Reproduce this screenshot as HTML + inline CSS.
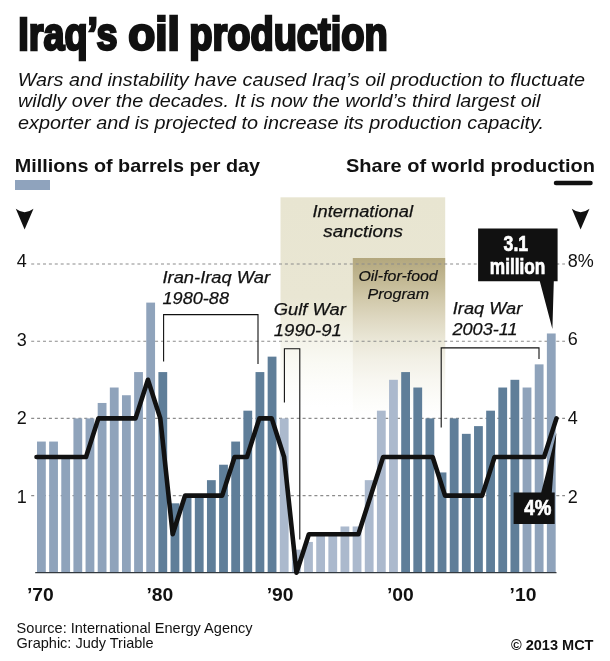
<!DOCTYPE html>
<html><head><meta charset="utf-8"><title>Iraq's oil production</title>
<style>
html,body{margin:0;padding:0;background:#fff;}
svg{display:block}
text{font-family:"Liberation Sans",sans-serif;fill:#111}
.b{font-weight:bold}
.i{font-style:italic}
</style></head><body>
<svg width="610" height="661" viewBox="0 0 610 661">
<defs>
<linearGradient id="gl" x1="0" x2="1" y1="0" y2="0"><stop offset="0" stop-color="#8a9eb7"/><stop offset="1" stop-color="#a0b1c7"/></linearGradient>
<linearGradient id="gd" x1="0" x2="1" y1="0" y2="0"><stop offset="0" stop-color="#567390"/><stop offset="1" stop-color="#7089a3"/></linearGradient>
<linearGradient id="gp" x1="0" x2="1" y1="0" y2="0"><stop offset="0" stop-color="#a3b2c7"/><stop offset="1" stop-color="#b7c3d4"/></linearGradient>
<linearGradient id="gs" gradientUnits="userSpaceOnUse" x1="0" x2="0" y1="197" y2="407"><stop offset="0" stop-color="#e8e5d1"/><stop offset="0.48" stop-color="#e9e6d3"/><stop offset="0.58" stop-color="#eeecdc"/><stop offset="0.68" stop-color="#f4f3e9"/><stop offset="0.78" stop-color="#f9f9f3"/><stop offset="0.9" stop-color="#fdfdfb"/><stop offset="1" stop-color="#ffffff"/></linearGradient>
<linearGradient id="go" gradientUnits="userSpaceOnUse" x1="0" x2="0" y1="258" y2="418"><stop offset="0" stop-color="#b3a77d"/><stop offset="0.1375" stop-color="#c2b893"/><stop offset="0.2625" stop-color="#d2caac"/><stop offset="0.3875" stop-color="#dfd9c3"/><stop offset="0.5125" stop-color="#eae7d7"/><stop offset="0.6375" stop-color="#f2f0e6"/><stop offset="0.7625" stop-color="#f8f7f1"/><stop offset="0.8875" stop-color="#fcfcf9"/><stop offset="1" stop-color="#ffffff"/></linearGradient>
</defs>
<rect width="610" height="661" fill="#fff"/>

<!-- header -->
<g class="b" font-size="45.5" stroke="#111" stroke-width="2.6" stroke-linejoin="miter">
<text x="18.2" y="50.2" textLength="99.4" lengthAdjust="spacingAndGlyphs">Iraq’s</text>
<text x="128.2" y="50.2" textLength="51.6" lengthAdjust="spacingAndGlyphs">oil</text>
<text x="189.2" y="50.2" textLength="198.5" lengthAdjust="spacingAndGlyphs">production</text>
</g>
<text class="i" x="17.7" y="85.5" font-size="18.5" textLength="567.3" lengthAdjust="spacingAndGlyphs">Wars and instability have caused Iraq’s oil production to fluctuate</text>
<text class="i" x="18" y="107" font-size="18.5" textLength="522.5" lengthAdjust="spacingAndGlyphs">wildly over the decades. It is now the world’s third largest oil</text>
<text class="i" x="18" y="129.3" font-size="18.5" textLength="526" lengthAdjust="spacingAndGlyphs">exporter and is projected to increase its production capacity.</text>

<text class="b" x="14.8" y="171.5" font-size="18.5" textLength="245.2" lengthAdjust="spacingAndGlyphs">Millions of barrels per day</text>
<text class="b" x="346" y="171.5" font-size="18.5" textLength="249" lengthAdjust="spacingAndGlyphs">Share of world production</text>
<rect x="15" y="180" width="35" height="10" fill="#8fa3bd"/>
<line x1="556" y1="183" x2="590.5" y2="183" stroke="#111" stroke-width="4.5" stroke-linecap="round"/>

<!-- arrows -->
<path d="M15.8 208.8 Q24.6 215.5 33.5 208.8 L24.6 229.6 Z" fill="#111"/>
<path d="M571.8 208.8 Q580.6 215.5 589.5 208.8 L580.6 229.6 Z" fill="#111"/>

<!-- shaded periods -->
<rect x="280.5" y="197.3" width="164.7" height="210" fill="url(#gs)"/>
<rect x="352.8" y="258" width="92.4" height="160" fill="url(#go)"/>

<!-- grid -->
<line x1="31.2" y1="495.60" x2="565" y2="495.60" stroke="#8c8c8c" stroke-width="1.1" stroke-dasharray="3 2.9"/>
<line x1="31.2" y1="418.40" x2="565" y2="418.40" stroke="#8c8c8c" stroke-width="1.1" stroke-dasharray="3 2.9"/>
<line x1="31.2" y1="341.20" x2="565" y2="341.20" stroke="#8c8c8c" stroke-width="1.1" stroke-dasharray="3 2.9"/>
<line x1="31.2" y1="264.00" x2="565" y2="264.00" stroke="#8c8c8c" stroke-width="1.1" stroke-dasharray="3 2.9"/>

<!-- bars -->
<rect x="37.00" y="441.56" width="8.8" height="131.24" fill="#8fa3bb"/>
<rect x="49.14" y="441.56" width="8.8" height="131.24" fill="#8fa3bb"/>
<rect x="61.28" y="457.00" width="8.8" height="115.80" fill="#8fa3bb"/>
<rect x="73.42" y="418.40" width="8.8" height="154.40" fill="#8fa3bb"/>
<rect x="85.56" y="418.40" width="8.8" height="154.40" fill="#8fa3bb"/>
<rect x="97.70" y="402.96" width="8.8" height="169.84" fill="#8fa3bb"/>
<rect x="109.84" y="387.52" width="8.8" height="185.28" fill="#8fa3bb"/>
<rect x="121.98" y="395.24" width="8.8" height="177.56" fill="#8fa3bb"/>
<rect x="134.12" y="372.08" width="8.8" height="200.72" fill="#8fa3bb"/>
<rect x="146.26" y="302.60" width="8.8" height="270.20" fill="#8fa3bb"/>
<rect x="158.40" y="372.08" width="8.8" height="200.72" fill="#5f7e99"/>
<rect x="170.54" y="503.32" width="8.8" height="69.48" fill="#5f7e99"/>
<rect x="182.68" y="495.60" width="8.8" height="77.20" fill="#5f7e99"/>
<rect x="194.82" y="495.60" width="8.8" height="77.20" fill="#5f7e99"/>
<rect x="206.96" y="480.16" width="8.8" height="92.64" fill="#5f7e99"/>
<rect x="219.10" y="464.72" width="8.8" height="108.08" fill="#5f7e99"/>
<rect x="231.24" y="441.56" width="8.8" height="131.24" fill="#5f7e99"/>
<rect x="243.38" y="410.68" width="8.8" height="162.12" fill="#5f7e99"/>
<rect x="255.52" y="372.08" width="8.8" height="200.72" fill="#5f7e99"/>
<rect x="267.66" y="356.64" width="8.8" height="216.16" fill="#5f7e99"/>
<rect x="279.80" y="418.40" width="8.8" height="154.40" fill="#abb9cd"/>
<rect x="291.94" y="549.64" width="8.8" height="23.16" fill="#abb9cd"/>
<rect x="304.08" y="541.92" width="8.8" height="30.88" fill="#abb9cd"/>
<rect x="316.22" y="534.20" width="8.8" height="38.60" fill="#abb9cd"/>
<rect x="328.36" y="534.20" width="8.8" height="38.60" fill="#abb9cd"/>
<rect x="340.50" y="526.48" width="8.8" height="46.32" fill="#abb9cd"/>
<rect x="352.64" y="526.48" width="8.8" height="46.32" fill="#abb9cd"/>
<rect x="364.78" y="480.16" width="8.8" height="92.64" fill="#abb9cd"/>
<rect x="376.92" y="410.68" width="8.8" height="162.12" fill="#abb9cd"/>
<rect x="389.06" y="379.80" width="8.8" height="193.00" fill="#abb9cd"/>
<rect x="401.20" y="372.08" width="8.8" height="200.72" fill="#5f7e99"/>
<rect x="413.34" y="387.52" width="8.8" height="185.28" fill="#5f7e99"/>
<rect x="425.48" y="418.40" width="8.8" height="154.40" fill="#5f7e99"/>
<rect x="437.62" y="472.44" width="8.8" height="100.36" fill="#5f7e99"/>
<rect x="449.76" y="418.40" width="8.8" height="154.40" fill="#5f7e99"/>
<rect x="461.90" y="433.84" width="8.8" height="138.96" fill="#5f7e99"/>
<rect x="474.04" y="426.12" width="8.8" height="146.68" fill="#5f7e99"/>
<rect x="486.18" y="410.68" width="8.8" height="162.12" fill="#5f7e99"/>
<rect x="498.32" y="387.52" width="8.8" height="185.28" fill="#5f7e99"/>
<rect x="510.46" y="379.80" width="8.8" height="193.00" fill="#5f7e99"/>
<rect x="522.60" y="387.52" width="8.8" height="185.28" fill="#8fa3bb"/>
<rect x="534.74" y="364.36" width="8.8" height="208.44" fill="#8fa3bb"/>
<rect x="546.88" y="333.48" width="8.8" height="239.32" fill="#8fa3bb"/>
<line x1="35.2" y1="572.6" x2="556.5" y2="572.6" stroke="#33393f" stroke-width="1.2"/>

<!-- brackets -->
<path d="M163.6 361.5 V314.6 H258 V364" fill="none" stroke="#111" stroke-width="1.1"/>
<path d="M284.4 402.5 V348.8 H299.8 V539.5" fill="none" stroke="#111" stroke-width="1.1"/>
<path d="M441.2 427.5 V347.9 H539 V359" fill="none" stroke="#111" stroke-width="1.1"/>

<!-- share line -->
<polyline points="36.50,457.00 48.88,457.00 61.26,457.00 73.64,457.00 86.02,457.00 98.40,418.40 110.78,418.40 123.16,418.40 135.54,418.40 147.92,379.80 160.30,418.40 172.68,534.20 185.06,495.60 197.44,495.60 209.82,495.60 222.20,495.60 234.58,457.00 246.96,457.00 259.34,418.40 271.72,418.40 284.10,457.00 296.48,572.80 308.86,534.20 321.24,534.20 333.62,534.20 346.00,534.20 358.38,534.20 370.76,495.60 383.14,457.00 395.52,457.00 407.90,457.00 420.28,457.00 432.66,457.00 445.04,495.60 457.42,495.60 469.80,495.60 482.18,495.60 494.56,457.00 506.94,457.00 519.32,457.00 531.70,457.00 544.08,457.00 556.46,418.40" fill="none" stroke="#111" stroke-width="4.6" stroke-linejoin="round" stroke-linecap="round"/>


<!-- axis labels -->
<g font-size="18">
<text x="16.8" y="266.8">4</text><text x="16.8" y="345.6">3</text><text x="16.8" y="424.1">2</text><text x="16.8" y="503">1</text>
<text x="567.8" y="266.8">8%</text><text x="567.8" y="345.4">6</text><text x="567.8" y="423.8">4</text><text x="567.8" y="502.8">2</text>
</g>
<g font-size="18.2" class="b">
<text x="26.9" y="601.4" textLength="26.8" lengthAdjust="spacingAndGlyphs">’70</text><text x="146.5" y="601.4" textLength="26.8" lengthAdjust="spacingAndGlyphs">’80</text><text x="266.7" y="601.4" textLength="26.8" lengthAdjust="spacingAndGlyphs">’90</text><text x="387" y="601.4" textLength="26.8" lengthAdjust="spacingAndGlyphs">’00</text><text x="509.6" y="601.4" textLength="26.8" lengthAdjust="spacingAndGlyphs">’10</text>
</g>

<!-- annotations -->
<g class="i" font-size="17.3" stroke="#111" stroke-width="0.25">
<text x="312.5" y="216.7" textLength="100.5" lengthAdjust="spacingAndGlyphs">International</text>
<text x="323.3" y="237.4" textLength="79.5" lengthAdjust="spacingAndGlyphs">sanctions</text>
<text x="162.5" y="282.5" textLength="107.5" lengthAdjust="spacingAndGlyphs">Iran-Iraq War</text>
<text x="162.5" y="303.8" textLength="66.5" lengthAdjust="spacingAndGlyphs">1980-88</text>
<text x="273.8" y="315.4" textLength="72" lengthAdjust="spacingAndGlyphs">Gulf War</text>
<text x="273.8" y="335.6" textLength="68" lengthAdjust="spacingAndGlyphs">1990-91</text>
<text x="452.8" y="313.6" textLength="69.5" lengthAdjust="spacingAndGlyphs">Iraq War</text>
<text x="452.5" y="335" textLength="65" lengthAdjust="spacingAndGlyphs">2003-11</text>
</g>
<g class="i" font-size="15" stroke="#111" stroke-width="0.2">
<text x="358.4" y="280.7" textLength="79.3" lengthAdjust="spacingAndGlyphs">Oil-for-food</text>
<text x="367.5" y="298.7" textLength="61.6" lengthAdjust="spacingAndGlyphs">Program</text>
</g>

<!-- callouts -->
<path d="M478.1 228.5 H557.6 V281.3 H553.8 L552.4 329 L539.8 281.3 H478.1 Z" fill="#111"/>
<g class="b" style="fill:#fff" stroke="#fff" stroke-width="0.7">
<text x="503.6" y="250.6" font-size="22.2" style="fill:#fff" textLength="24.6" lengthAdjust="spacingAndGlyphs">3.1</text>
<text x="489.8" y="274.4" font-size="21.4" style="fill:#fff" textLength="55.6" lengthAdjust="spacingAndGlyphs">million</text>
</g>
<path d="M513.6 492.6 H541.2 L556.4 432.8 L551.8 492.6 H554.7 V523.9 H513.6 Z" fill="#111"/>
<text class="b" x="524.3" y="515" font-size="22" style="fill:#fff" stroke="#fff" stroke-width="0.7" textLength="27" lengthAdjust="spacingAndGlyphs">4%</text>

<!-- footer -->
<text x="16.6" y="632.8" font-size="14.5" textLength="236" lengthAdjust="spacingAndGlyphs">Source: International Energy Agency</text>
<text x="16.6" y="647.5" font-size="14.5" textLength="137" lengthAdjust="spacingAndGlyphs">Graphic: Judy Triable</text>
<text class="b" x="511" y="650" font-size="14" textLength="82.5" lengthAdjust="spacingAndGlyphs">© 2013 MCT</text>
</svg>
</body></html>
